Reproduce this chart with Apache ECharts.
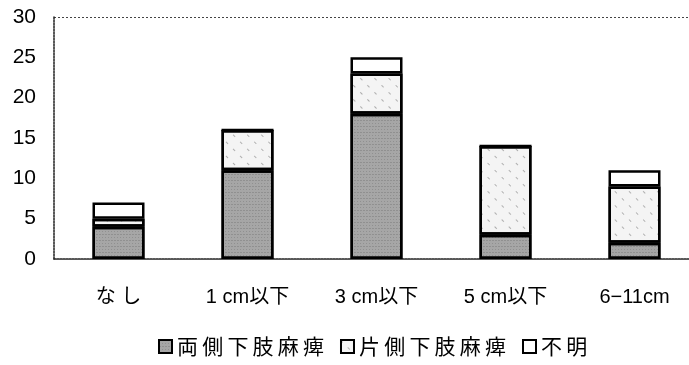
<!DOCTYPE html>
<html>
<head>
<meta charset="utf-8">
<script src="https://cdn.jsdelivr.net/npm/echarts@6/dist/echarts.min.js"></script>
<style>
  html, body { margin: 0; padding: 0; background: #fff; }
  #chart { width: 689px; height: 365px; }
</style>
</head>
<body>
<div id="chart"></div>
<script>
// Size of the defect (categories) and number of cases per outcome
const categories = ['な し', '1 cm以下', '3 cm以下', '5 cm以下', '6−11cm'];
const bilateral = [4, 11, 18, 3, 2];    // 両側下肢麻痺
const unilateral = [1, 5, 5, 11, 7];    // 片側下肢麻痺
const unknown = [2, 0, 2, 0, 2];        // 不明
const seriesNames = ['両側下肢麻痺', '片側下肢麻痺', '不明'];
const yTicks = [0, 5, 10, 15, 20, 25, 30];

const fontFamily = '"Liberation Sans", Arial, "Noto Sans CJK JP", sans-serif';

const barStyle = (color, decal) => ({
  color: color,
  borderColor: '#000',
  borderWidth: 2.5,
  decal: decal
});

const stippleDecal = {
  symbol: 'rect',
  symbolSize: 0.6,
  color: 'rgba(40,40,40,0.55)',
  dashArrayX: [[1, 2], [2, 1]],
  dashArrayY: [1, 2],
  rotation: 0
};
const hatchDecal = {
  symbol: 'rect',
  symbolSize: 1,
  color: 'rgba(90,90,90,0.45)',
  dashArrayX: [[3, 7]],
  dashArrayY: [1, 9],
  rotation: Math.PI / 4
};

// widen the legend lettering a little with thin spaces between characters
const spaced = (s) => Array.from(s).join('\u2009');

const chart = echarts.init(document.getElementById('chart'), null, { renderer: 'canvas' });

chart.setOption({
  animation: false,
  backgroundColor: '#fff',
  textStyle: { fontFamily: fontFamily, color: '#000' },
  grid: { left: 54, top: 17, width: 645, height: 242, containLabel: false, outerBoundsMode: 'none' },
  legend: {
    data: seriesNames,
    top: 331,
    left: 153,
    itemWidth: 13,
    itemHeight: 13,
    itemGap: 16,
    icon: 'rect',
    formatter: spaced,
    textStyle: { fontSize: 21, color: '#000', fontFamily: '"Noto Sans CJK JP", sans-serif', padding: [0, 0, 0, 0] },
    itemStyle: { borderColor: '#000', borderWidth: 2 }
  },
  xAxis: {
    type: 'category',
    data: categories,
    axisTick: { show: false },
    axisLine: { lineStyle: { color: '#222', width: 1.5, type: [2, 1] } },
    axisLabel: { margin: 28, fontSize: 20, color: '#000', fontFamily: fontFamily }
  },
  yAxis: {
    type: 'value',
    min: yTicks[0],
    max: yTicks[yTicks.length - 1],
    interval: 5,
    axisLine: { show: true, lineStyle: { color: '#222', width: 1.5, type: [2, 1] } },
    axisTick: { show: false },
    axisLabel: { margin: 18, fontSize: 21, color: '#000', fontFamily: fontFamily },
    splitLine: {
      show: true,
      lineStyle: {
        color: ['rgba(0,0,0,0)', 'rgba(0,0,0,0)', 'rgba(0,0,0,0)', 'rgba(0,0,0,0)', 'rgba(0,0,0,0)', 'rgba(0,0,0,0)', '#444'],
        type: [2, 2],
        width: 1
      }
    }
  },
  series: [
    {
      name: seriesNames[0], type: 'bar', stack: 'total', barWidth: 52,
      data: bilateral, itemStyle: barStyle('#a6a6a6', stippleDecal)
    },
    {
      name: seriesNames[1], type: 'bar', stack: 'total', barWidth: 52,
      data: unilateral, itemStyle: barStyle('#f4f4f4', hatchDecal)
    },
    {
      name: seriesNames[2], type: 'bar', stack: 'total', barWidth: 52,
      data: unknown, itemStyle: barStyle('#ffffff')
    }
  ]
});
</script>
</body>
</html>
